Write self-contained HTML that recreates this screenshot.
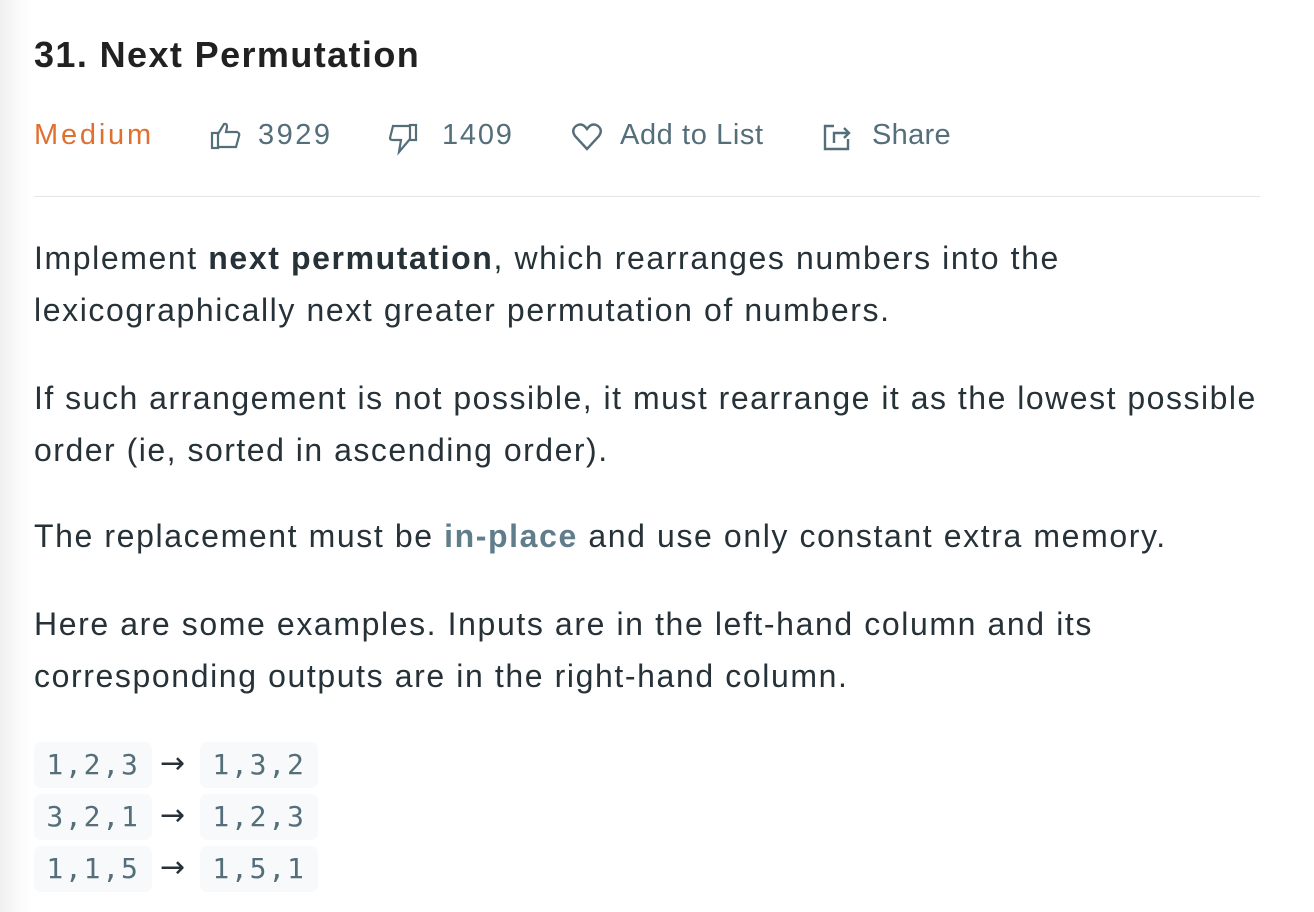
<!DOCTYPE html>
<html><head><style>
html,body{margin:0;padding:0;width:1314px;height:912px;overflow:hidden;background:#fff;}
body{background:linear-gradient(to right,#f0f0f0 0px,#fafafa 18px,#fff 34px);font-family:"Liberation Sans",sans-serif;color:#263238;position:relative;}
.a{position:absolute;white-space:nowrap;}
h1{position:absolute;left:34px;top:34px;margin:0;font-size:36px;letter-spacing:1.4px;font-weight:bold;color:#212121;}
.meta{top:119px;font-size:29px;letter-spacing:1px;color:#546e7a;}
.p{left:34px;font-size:32px;letter-spacing:1.6px;line-height:52px;color:#263238;}
.code{position:absolute;background:#f7f9fa;border-radius:7px;height:46px;width:118px;font-family:"DejaVu Sans Mono",monospace;font-size:28px;letter-spacing:1.8px;color:#546e7a;line-height:46px;text-align:center;}
.arr{position:absolute;left:160px;font-family:"DejaVu Sans",sans-serif;font-size:30px;color:#263238;}
</style></head><body>
<h1>31. Next Permutation</h1>
<div class="a meta" style="left:34px;color:#e07030;letter-spacing:2.8px">Medium</div>
<svg class="a" style="left:210px;top:120px" width="32" height="32" viewBox="0 0 32 32" fill="none" stroke="#546e7a" stroke-width="2.2"><rect x="2" y="13" width="6" height="15"/><path d="M8 14 L14 4 Q17 3 17 7 L16 12 L27 12 Q30 13 29 16 L26 27 L8 27"/></svg>
<div class="a meta" style="left:258px;letter-spacing:2.5px">3929</div>
<svg class="a" style="left:388px;top:122px" width="32" height="34" viewBox="0 0 32 34" fill="none" stroke="#546e7a" stroke-width="2.2"><rect x="22" y="3" width="6" height="15"/><path d="M22 4 L5 4 L2 16 Q2 18 5 18 L13 18 L11 30 L22 17"/></svg>
<div class="a meta" style="left:442px;letter-spacing:1.8px">1409</div>
<svg class="a" style="left:571px;top:122px" width="32" height="30" viewBox="0 0 32 30" fill="none" stroke="#546e7a" stroke-width="2.4"><path d="M16 27 L4 14 Q0 8 5 4 Q11 0 16 7 Q21 0 27 4 Q32 8 28 14 Z"/></svg>
<div class="a meta" style="left:620px;letter-spacing:0.6px">Add to List</div>
<svg class="a" style="left:822px;top:121px" width="32" height="32" viewBox="0 0 32 32" fill="none" stroke="#546e7a" stroke-width="2.4"><path d="M12 5 L3 5 L3 28 L26 28 L26 18"/><path d="M12 22 L12 12 L26 12"/><path d="M22 7 L27 12 L22 17"/></svg>
<div class="a meta" style="left:872px;letter-spacing:0.3px">Share</div>
<div class="a" style="left:34px;top:196px;width:1226px;height:1px;background:#e6e6e6"></div>
<div class="a p" style="top:232px">Implement <b>next permutation</b>, which rearranges numbers into the<br>lexicographically next greater permutation of numbers.</div>
<div class="a p" style="top:372px;letter-spacing:1.5px">If such arrangement is not possible, it must rearrange it as the lowest possible<br>order (ie, sorted in ascending order).</div>
<div class="a p" style="top:510px">The replacement must be <b style="color:#607d8b">in-place</b> and use only constant extra memory.</div>
<div class="a p" style="top:598px">Here are some examples. Inputs are in the left-hand column and its<br>corresponding outputs are in the right-hand column.</div>
<div class="code" style="left:34px;top:742px">1,2,3</div><div class="arr" style="top:746px">→</div><div class="code" style="left:200px;top:742px">1,3,2</div>
<div class="code" style="left:34px;top:794px">3,2,1</div><div class="arr" style="top:798px">→</div><div class="code" style="left:200px;top:794px">1,2,3</div>
<div class="code" style="left:34px;top:846px">1,1,5</div><div class="arr" style="top:850px">→</div><div class="code" style="left:200px;top:846px">1,5,1</div>
</body></html>
